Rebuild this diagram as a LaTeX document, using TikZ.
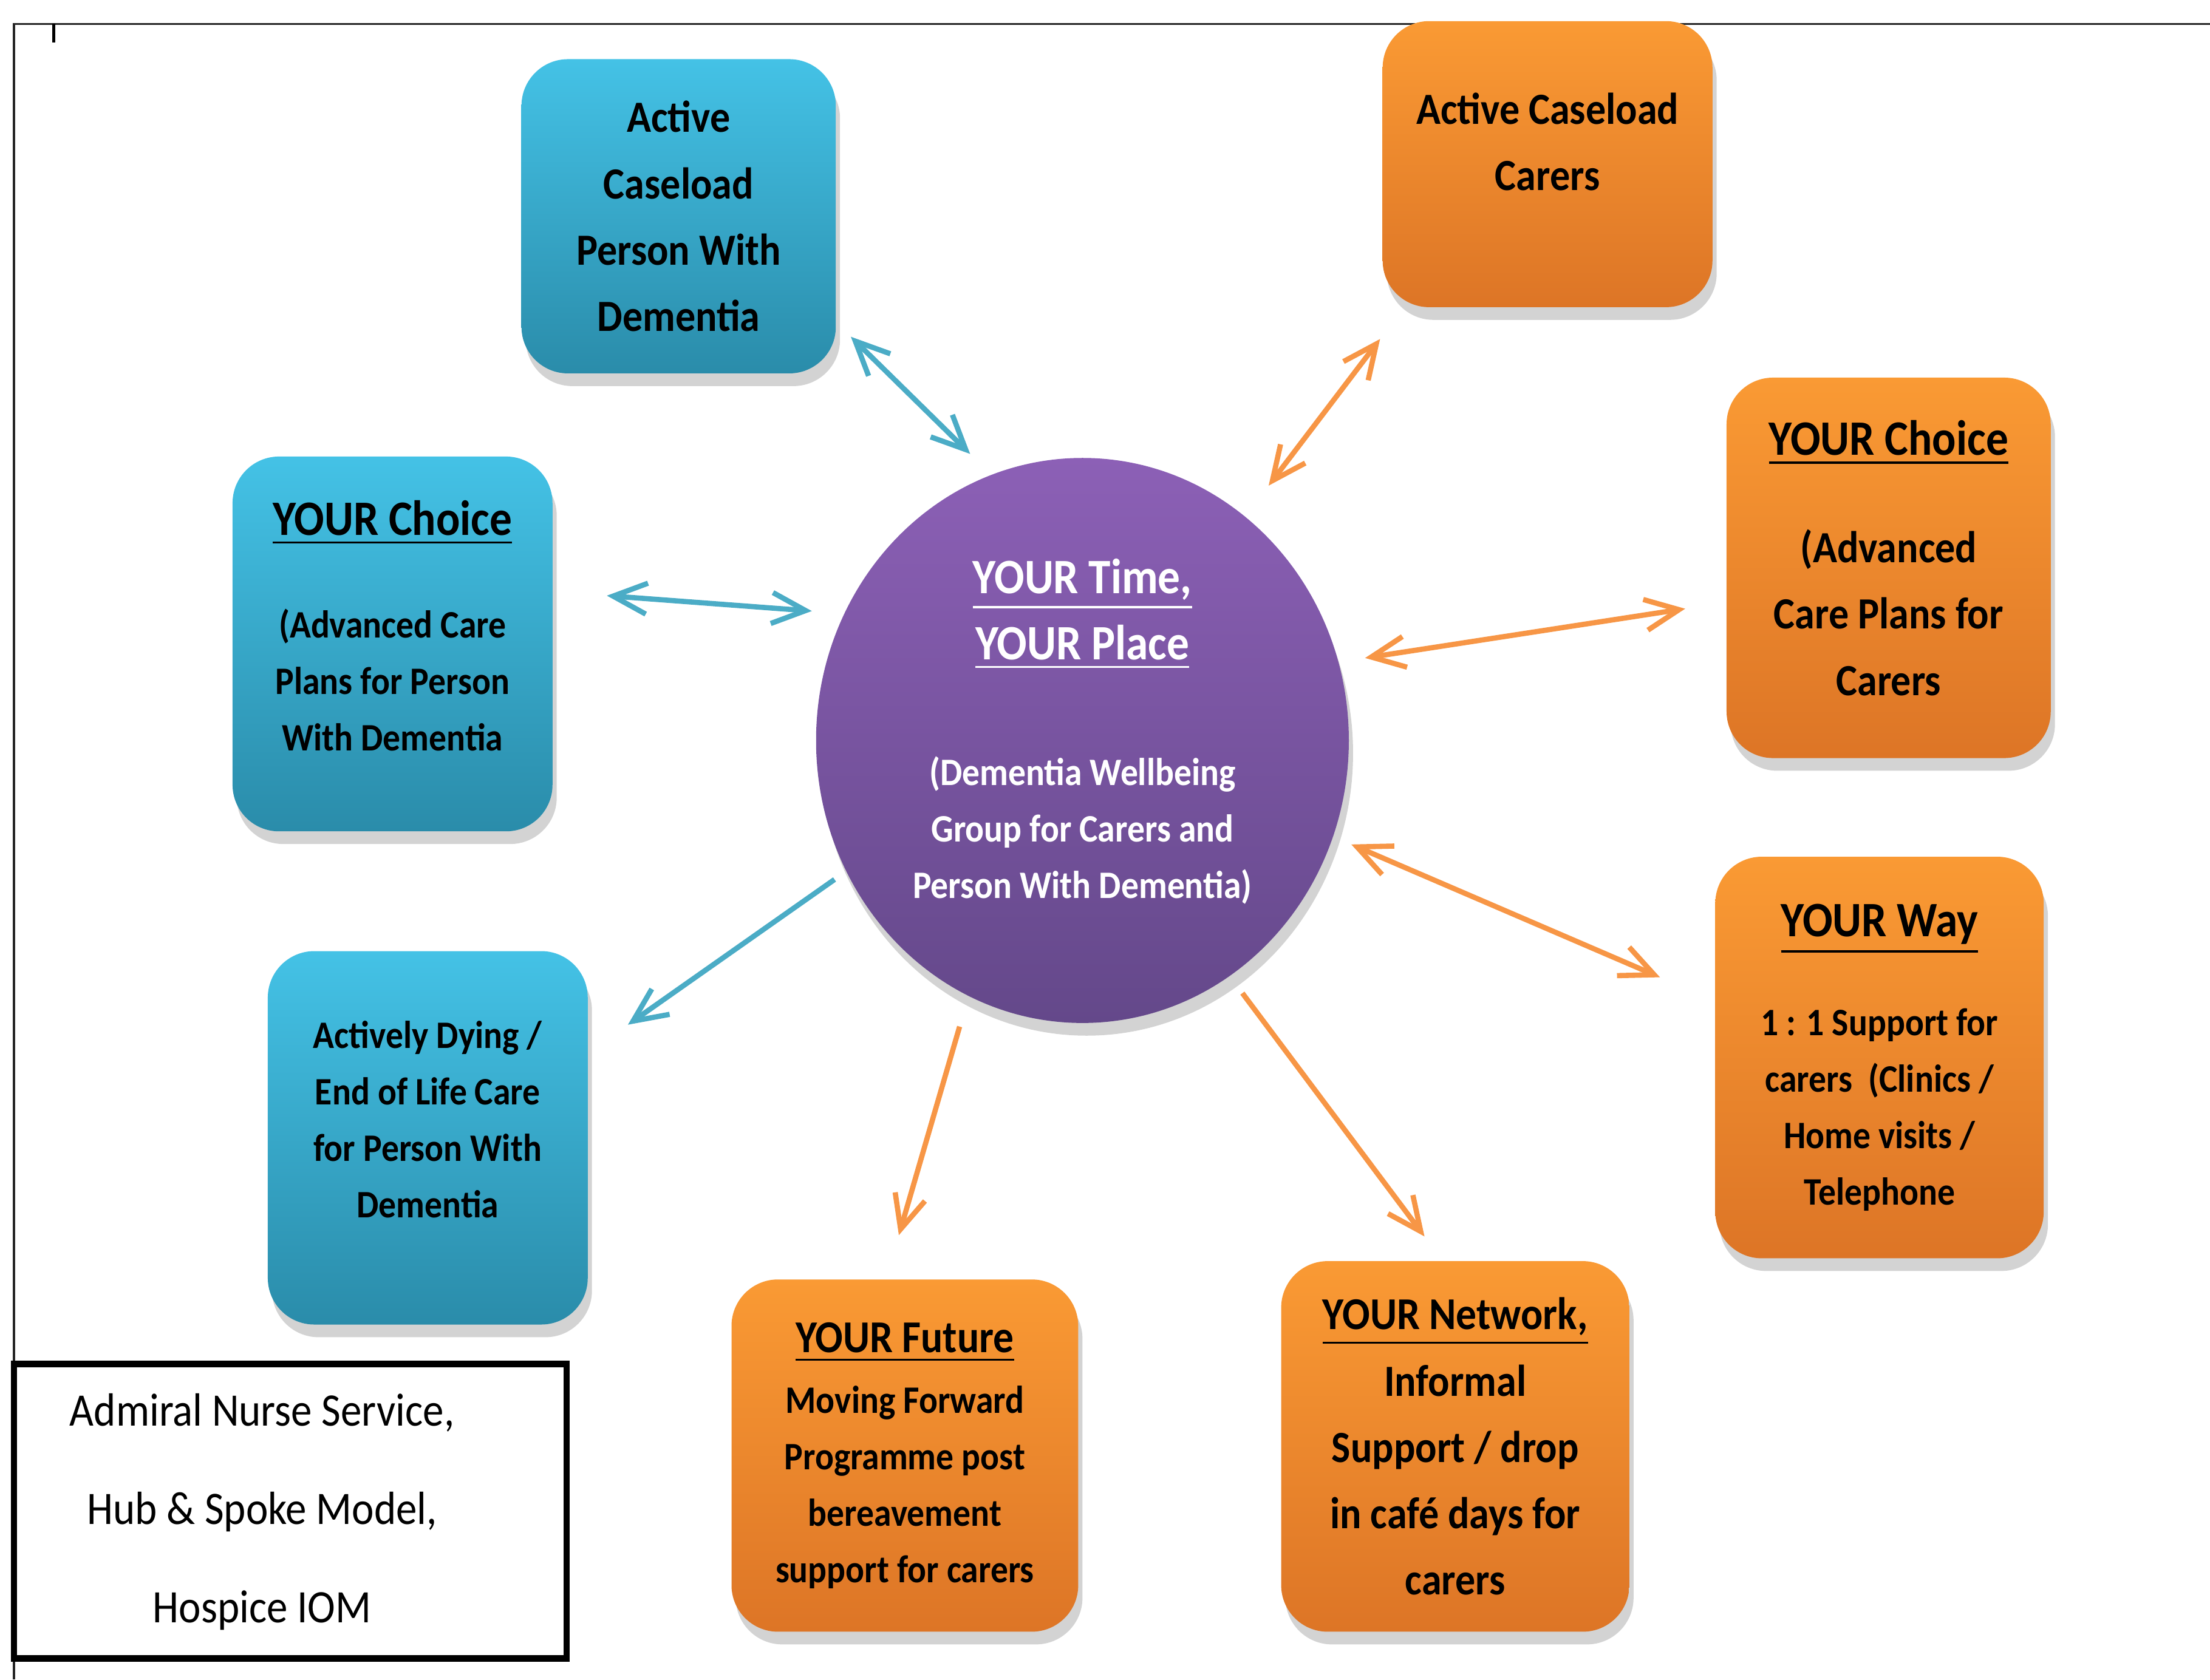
\documentclass[tikz,border=0pt]{standalone}
\usepackage{fontspec}
\setmainfont{Carlito}[FakeStretch=0.9]
\usepackage{tikz}
\usetikzlibrary{shapes.geometric,shadows,arrows.meta}

\definecolor{bluetop}{RGB}{68,194,230}
\definecolor{bluebot}{RGB}{42,140,170}
\definecolor{orangetop}{RGB}{250,154,52}
\definecolor{orangebot}{RGB}{221,117,38}
\definecolor{purpletop}{RGB}{140,96,182}
\definecolor{purplebot}{RGB}{100,72,138}
\definecolor{linkblue}{RGB}{75,172,198}
\definecolor{linkorange}{RGB}{247,150,70}

\newcommand{\yourtitle}[2][10]{{\fontsize{#1}{13.4}\selectfont\underline{#2}}}

\tikzset{
  tile/.style={rectangle,rounded corners=3.3mm,align=center,drop shadow={opacity=0.35,shadow xshift=0.3mm,shadow yshift=-0.9mm}},
  bluebox/.style={tile,top color=bluetop,bottom color=bluebot},
  orangebox/.style={tile,top color=orangetop,bottom color=orangebot},
  bigtext/.style={font=\bfseries\fontsize{9}{13.4}\selectfont},
  smalltext/.style={font=\bfseries\fontsize{7.85}{11.4}\selectfont},
  bluelink/.style={draw=linkblue,line width=0.37mm},
  orangelink/.style={draw=linkorange,line width=0.37mm}
}

\begin{document}
\begin{tikzpicture}[x=0.1mm,y=-0.1mm,>={Straight Barb[length=2.4mm,width=2.2mm]}]
\useasboundingbox (0,0) rectangle (1568,1192);
\draw[line width=0.15mm,black!85] (10,1192) -- (10,17) -- (1568,17);
\draw[line width=0.2mm] (38,17) -- (38,30);

\node (caseload) at (481.5,153.5) [bluebox,minimum width=22.3mm,minimum height=22.3mm,bigtext] {Active\\Caseload\\Person With\\Dementia};
\node (carerload) at (1098,116.5) [orangebox,minimum width=23.4mm,minimum height=20.3mm,bigtext] {Active Caseload\\Carers\\[-1.5mm]\mbox{}};
\node (choiceperson) at (278.5,457) [bluebox,minimum width=22.7mm,minimum height=26.6mm,smalltext] {\yourtitle{YOUR Choice}\\[3.3mm](Advanced Care\\Plans for Person\\With Dementia\\[-1.4mm]\mbox{}};
\node (choicecarer) at (1340,403) [orangebox,minimum width=23mm,minimum height=27mm,bigtext] {\yourtitle{YOUR Choice}\\[2.9mm](Advanced\\Care Plans for\\Carers\\[-3.3mm]\mbox{}};
\node (hub) at (768,525.5) [ellipse,minimum width=37.8mm,minimum height=40.1mm,inner sep=0pt,top color=purpletop,bottom color=purplebot,drop shadow={opacity=0.35,shadow xshift=0.3mm,shadow yshift=-0.9mm},text=white,align=center,smalltext] {\yourtitle{YOUR Time,}\\[0.7mm]\yourtitle{YOUR Place}\\[4.9mm](Dementia Wellbeing\\Group for Carers and\\Person With Dementia)\\[-2.3mm]\mbox{}};
\node (dying) at (303.5,807.5) [bluebox,minimum width=22.7mm,minimum height=26.5mm,smalltext] {Actively Dying /\\End of Life Care\\for Person With\\Dementia\\[-1.4mm]\mbox{}};
\node (way) at (1333.5,750.5) [orangebox,minimum width=23.3mm,minimum height=28.5mm,smalltext] {\yourtitle{YOUR Way}\\[3mm]1 : 1 Support for\\carers~~(Clinics /\\Home visits /\\Telephone};
\node (future) at (642,1033) [orangebox,minimum width=24.6mm,minimum height=25mm,smalltext] {\yourtitle[9.2]{YOUR Future}\\[0.3mm]Moving Forward\\Programme post\\bereavement\\support for carers};
\node (network) at (1032.5,1026.5) [orangebox,minimum width=24.7mm,minimum height=26.3mm,bigtext] {\yourtitle[9.2]{YOUR Network,}\\Informal\\Support / drop\\in café days for\\carers};
\node (legend) at (206,1072.5) [rectangle,draw,line width=0.45mm,minimum width=39.2mm,minimum height=20.9mm] {};
\node (legendtext) at (186,1073) [align=center,font=\fontsize{9.4}{19.9}\selectfont] {Admiral Nurse Service,\\Hub \& Spoke Model,\\Hospice IOM};

\draw[bluelink,<->,shorten <=1.4mm,shorten >=2.05mm] (caseload.-34) -- (hub.109);
\draw[orangelink,<->,shorten <=2.75mm,shorten >=2.7mm] (carerload.225) -- (hub.54);
\draw[bluelink,<->,shorten <=3.8mm,shorten >=2.25mm] (choiceperson.18) -- (hub.152);
\draw[orangelink,<->,shorten <=2.9mm,shorten >=1.85mm] (choicecarer.192) -- (hub.17);
\draw[bluelink,->,shorten <=0.95mm,shorten >=3.4mm] (hub.209) -- (dying.28);
\draw[orangelink,->,shorten <=2.2mm,shorten >=3.2mm] (hub.246) -- (future.96);
\draw[orangelink,<->,shorten <=1.35mm,shorten >=4.2mm] (hub.339) -- (way.161);
\draw[orangelink,->,shorten <=1.45mm,shorten >=2.1mm] (hub.302) -- (network.94);
\end{tikzpicture}
\end{document}
